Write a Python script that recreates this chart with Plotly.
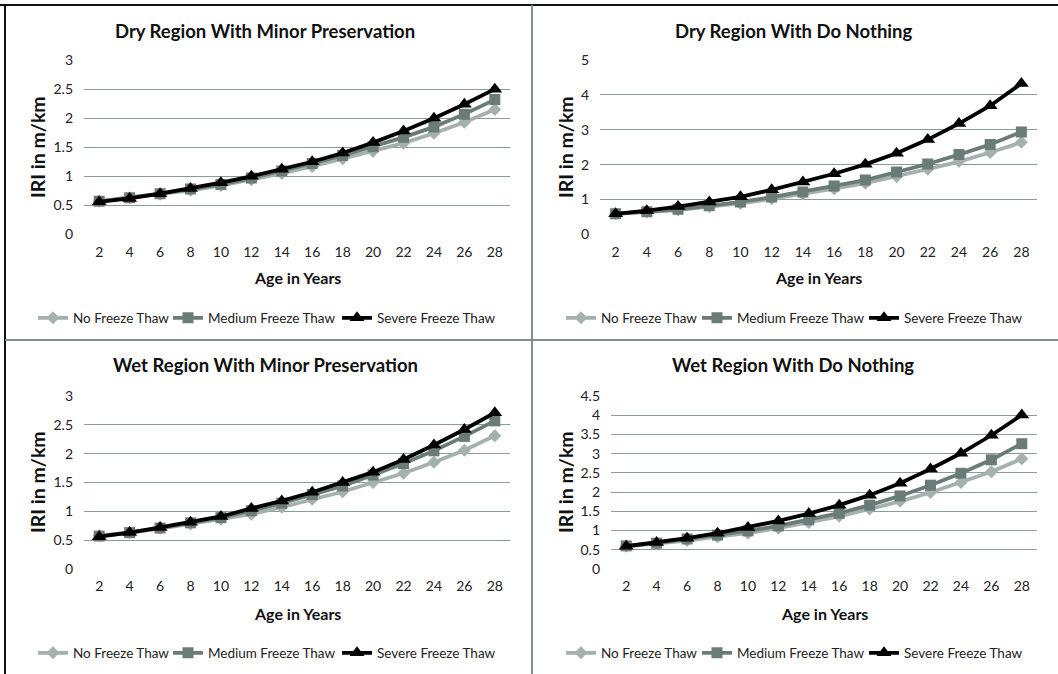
import plotly.graph_objects as go

ages = [2, 4, 6, 8, 10, 12, 14, 16, 18, 20, 22, 24, 26, 28]
series_names = ["No Freeze Thaw", "Medium Freeze Thaw", "Severe Freeze Thaw"]

dry_minor_no = [0.57, 0.63, 0.69, 0.76, 0.84, 0.94, 1.05, 1.17, 1.30, 1.43, 1.57, 1.74, 1.93, 2.15]
dry_minor_med = [0.57, 0.63, 0.70, 0.78, 0.86, 0.97, 1.09, 1.22, 1.36, 1.51, 1.67, 1.85, 2.07, 2.32]
dry_minor_sev = [0.56, 0.62, 0.70, 0.79, 0.89, 1.00, 1.12, 1.25, 1.40, 1.58, 1.78, 2.00, 2.24, 2.50]

dry_none_no = [0.59, 0.64, 0.70, 0.80, 0.89, 1.02, 1.16, 1.31, 1.47, 1.66, 1.87, 2.09, 2.35, 2.64]
dry_none_med = [0.59, 0.65, 0.72, 0.82, 0.93, 1.07, 1.22, 1.39, 1.56, 1.79, 2.02, 2.29, 2.58, 2.94]
dry_none_sev = [0.59, 0.68, 0.80, 0.93, 1.08, 1.28, 1.50, 1.74, 2.01, 2.33, 2.72, 3.18, 3.69, 4.33]

wet_minor_no = [0.58, 0.63, 0.70, 0.78, 0.86, 0.95, 1.07, 1.21, 1.34, 1.50, 1.66, 1.85, 2.06, 2.31]
wet_minor_med = [0.57, 0.63, 0.71, 0.80, 0.89, 1.01, 1.14, 1.29, 1.44, 1.63, 1.83, 2.05, 2.30, 2.57]
wet_minor_sev = [0.56, 0.63, 0.72, 0.81, 0.91, 1.05, 1.18, 1.33, 1.50, 1.68, 1.90, 2.15, 2.42, 2.71]

wet_none_no = [0.59, 0.66, 0.74, 0.84, 0.93, 1.06, 1.21, 1.37, 1.56, 1.76, 1.99, 2.25, 2.53, 2.87]
wet_none_med = [0.60, 0.67, 0.78, 0.88, 0.99, 1.12, 1.28, 1.45, 1.66, 1.90, 2.18, 2.49, 2.84, 3.26]
wet_none_sev = [0.59, 0.69, 0.80, 0.93, 1.08, 1.25, 1.44, 1.66, 1.92, 2.23, 2.60, 3.01, 3.48, 4.01]

titles = ["Dry Region With Minor Preservation", "Dry Region With Do Nothing",
          "Wet Region With Minor Preservation", "Wet Region With Do Nothing"]
panel_data = [
    (dry_minor_no, dry_minor_med, dry_minor_sev),
    (dry_none_no, dry_none_med, dry_none_sev),
    (wet_minor_no, wet_minor_med, wet_minor_sev),
    (wet_none_no, wet_none_med, wet_none_sev),
]
y_max = [3, 5, 3, 4.5]
y_dtick = [0.5, 1, 0.5, 0.5]

W, H = 1058, 674
FONT = "Lato"
colors = ["#a5b1ad", "#6b7b78", "#000000"]
symbols = ["diamond", "square", "triangle-up"]
msizes = [10, 11, 13]
grid_color = "#8a9c99"
divider = "#7f8f8c"

# pixel boxes: (x0, x1, ytop, ybottom)
boxes = [(84, 510, 60, 234.5), (600, 1037, 60, 234.5),
         (84, 510, 396, 569), (611, 1037, 396, 569)]
title_pos = [(265, 31), (793, 31), (265, 365), (793, 365)]
ytitle_pos = [(37, 147), (565, 147), (37, 482), (565, 482)]
xtitle_y = [278, 278, 613, 613]
legend_text_x = [[73, 208, 377], [601, 737, 904], [73, 208, 377], [601, 737, 904]]
legend_y = [318, 318, 653, 653]

fig = go.Figure()
annotations = []
legend_layouts = {}
for i in range(4):
    ax = "" if i == 0 else str(i + 1)
    x0, x1, yt, yb = boxes[i]
    for s in range(3):
        k = i * 3 + s + 1
        legend_name = "legend" if k == 1 else f"legend{k}"
        fig.add_trace(go.Scatter(
            x=ages, y=panel_data[i][s], name=series_names[s], mode="lines+markers",
            line=dict(color=colors[s], width=3.8),
            marker=dict(symbol=symbols[s], size=msizes[s], color=colors[s]),
            xaxis="x" + ax, yaxis="y" + ax, legend=legend_name, showlegend=True,
        ))
        legend_layouts[legend_name] = dict(
            orientation="h", x=(legend_text_x[i][s] - 40) / W, y=1 - legend_y[i] / H,
            xanchor="left", yanchor="middle", bgcolor="rgba(0,0,0,0)",
            font=dict(family=FONT, size=13.5, color="#222"), itemwidth=30)
    fig.update_layout(**{
        "xaxis" + ax: dict(domain=[x0 / W, x1 / W], range=[1, 29], tickvals=ages,
                           showgrid=False, zeroline=False, showline=False,
                           anchor="y" + ax, ticks="", ticklabelstandoff=7,
                           tickfont=dict(family=FONT, size=14, color="#222")),
        "yaxis" + ax: dict(domain=[1 - yb / H, 1 - yt / H], range=[-0.0005 * y_max[i], y_max[i] * 1.0005],
                           dtick=y_dtick[i], tick0=0, showgrid=True, gridcolor=grid_color, gridwidth=1.3,
                           zeroline=False, showline=False, anchor="x" + ax, ticks="",
                           ticklabelstandoff=10,
                           tickfont=dict(family=FONT, size=14, color="#222")),
    })
    annotations.append(dict(text="<b>" + titles[i] + "</b>", x=title_pos[i][0] / W, y=1 - title_pos[i][1] / H,
                            xref="paper", yref="paper", showarrow=False, xanchor="center", yanchor="middle",
                            font=dict(family=FONT, size=18.5, color="#111")))
    annotations.append(dict(text="<b>IRI in m/km</b>", x=ytitle_pos[i][0] / W, y=1 - ytitle_pos[i][1] / H,
                            xref="paper", yref="paper", showarrow=False, textangle=-90,
                            xanchor="center", yanchor="middle",
                            font=dict(family=FONT, size=19.5, color="#111")))
    annotations.append(dict(text="<b>Age in Years</b>", x=(x0 + x1) / 2 / W, y=1 - xtitle_y[i] / H,
                            xref="paper", yref="paper", showarrow=False, xanchor="center", yanchor="middle",
                            font=dict(family=FONT, size=16, color="#111")))

fig.update_layout(**legend_layouts)

shapes = [
    dict(type="line", xref="paper", yref="paper", x0=0, x1=1, y0=1 - 5 / H, y1=1 - 5 / H,
         line=dict(color="#111", width=2)),
    dict(type="line", xref="paper", yref="paper", x0=5 / W, x1=5 / W, y0=0, y1=1 - 5 / H,
         line=dict(color="#111", width=2)),
    dict(type="line", xref="paper", yref="paper", x0=532 / W, x1=532 / W, y0=0, y1=1 - 5 / H,
         line=dict(color=divider, width=2)),
    dict(type="line", xref="paper", yref="paper", x0=5 / W, x1=1, y0=1 - 340 / H, y1=1 - 340 / H,
         line=dict(color=divider, width=2)),
]

fig.update_layout(width=W, height=H, margin=dict(l=0, r=0, t=0, b=0, autoexpand=False),
                  paper_bgcolor="white", plot_bgcolor="white",
                  annotations=annotations, shapes=shapes,
                  font=dict(family=FONT))
fig.write_html("out.html", config={"displayModeBar": False},
               post_script="document.body.style.margin='0';document.body.style.overflow='hidden';")
